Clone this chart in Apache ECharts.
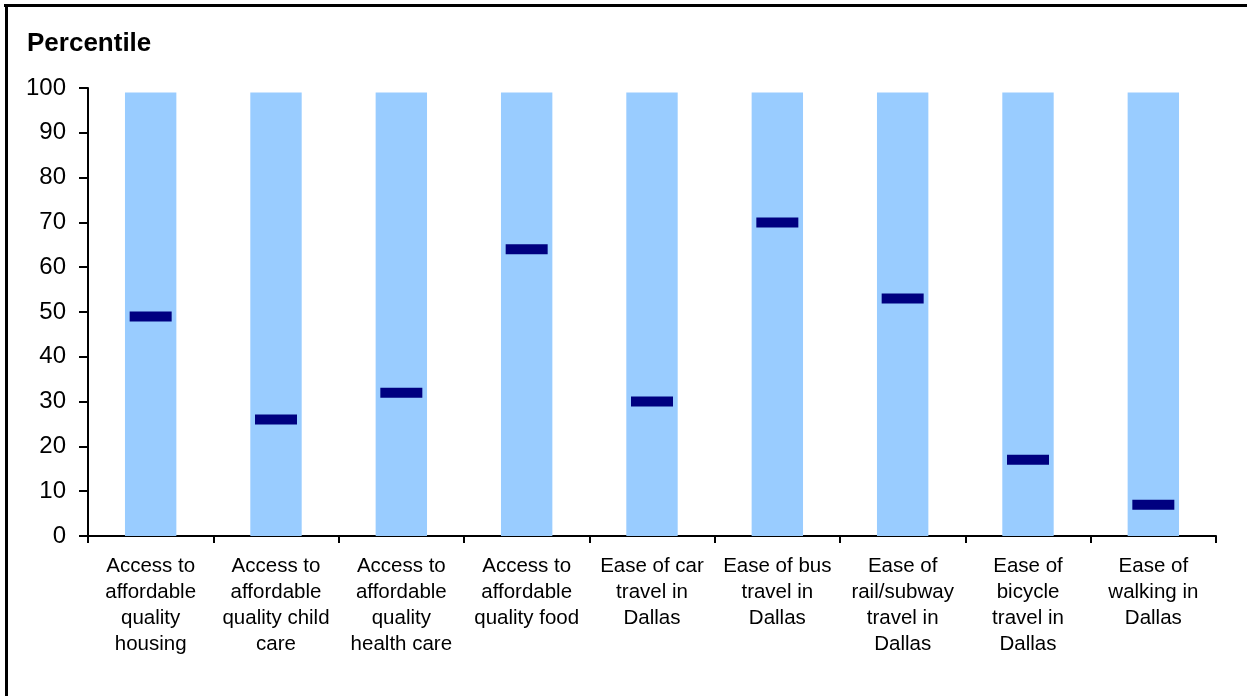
<!DOCTYPE html>
<html>
<head>
<meta charset="utf-8">
<script src="https://cdn.jsdelivr.net/npm/echarts@6/dist/echarts.min.js"></script>
<style>
  html, body { margin: 0; padding: 0; background: #ffffff; }
  #chart { width: 1247px; height: 696px; }
</style>
</head>
<body>
<div id="chart"></div>
<script>
// Survey items (category axis)
var categories = [
  'Access to\naffordable\nquality\nhousing',
  'Access to\naffordable\nquality child\ncare',
  'Access to\naffordable\nquality\nhealth care',
  'Access to\naffordable\nquality food',
  'Ease of car\ntravel in\nDallas',
  'Ease of bus\ntravel in\nDallas',
  'Ease of\nrail/subway\ntravel in\nDallas',
  'Ease of\nbicycle\ntravel in\nDallas',
  'Ease of\nwalking in\nDallas'
];

// Percentile range shown by each light-blue column
var rangeTop = [99, 99, 99, 99, 99, 99, 99, 99, 99];

// Dallas percentile marker for each item
var dallasPercentile = [49, 26, 32, 64, 30, 70, 53, 17, 7];

// Y-axis scale
var yMin = 0;
var yMax = 100;
var yStep = 10;

var font = 'Liberation Sans, Arial, sans-serif';
var chart = echarts.init(document.getElementById('chart'), null, { renderer: 'canvas' });

chart.setOption({
  backgroundColor: '#ffffff',
  animation: false,
  title: {
    text: 'Percentile',
    left: 22,
    top: 26,
    textStyle: { fontFamily: font, fontSize: 26, fontWeight: 'bold', color: '#000000' }
  },
  graphic: [
    { type: 'rect', shape: { x: 4, y: 4, width: 1243, height: 3 }, style: { fill: '#000000' } },
    { type: 'rect', shape: { x: 5, y: 4, width: 3, height: 692 }, style: { fill: '#000000' } }
  ],
  grid: { left: 88, right: 31, top: 88, bottom: 160, containLabel: false },
  xAxis: {
    type: 'category',
    data: categories,
    axisLine: { lineStyle: { color: '#000000', width: 2 } },
    axisTick: { show: true, length: 7, lineStyle: { color: '#000000', width: 2 } },
    axisLabel: {
      interval: 0,
      margin: 17,
      fontFamily: font,
      fontSize: 20.5,
      lineHeight: 26,
      color: '#000000',
      align: 'center'
    },
    splitLine: { show: false }
  },
  yAxis: {
    type: 'value',
    min: yMin,
    max: yMax,
    interval: yStep,
    axisLine: { show: true, lineStyle: { color: '#000000', width: 2 } },
    axisTick: { show: true, length: 9, lineStyle: { color: '#000000', width: 2 } },
    axisLabel: { fontFamily: font, fontSize: 24, color: '#000000', margin: 22 },
    splitLine: { show: false }
  },
  series: [
    {
      name: 'Range',
      type: 'bar',
      data: rangeTop,
      barWidth: '41%',
      itemStyle: { color: '#99CCFF' },
      silent: true,
      z: 1
    },
    {
      name: 'Dallas',
      type: 'scatter',
      data: dallasPercentile,
      symbol: 'rect',
      symbolSize: [42, 10],
      itemStyle: { color: '#000080', opacity: 1 },
      z: 3
    }
  ]
});
</script>
</body>
</html>
